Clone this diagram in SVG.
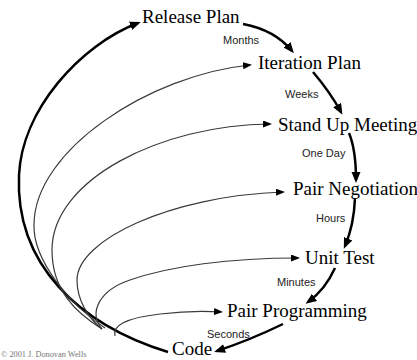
<svg xmlns="http://www.w3.org/2000/svg" width="417" height="360" viewBox="0 0 417 360">
<style>
.node{font-family:"Liberation Serif","Times New Roman",serif;font-size:19px;fill:#000}
.lbl{font-family:"Liberation Sans",Arial,sans-serif;font-size:11px;fill:#222}
.copy{font-family:"Liberation Serif","Times New Roman",serif;font-size:8.3px;fill:#777}
.main{fill:none;stroke:#000;stroke-width:2.5;marker-end:url(#big)}
.thin{fill:none;stroke:#3a3a3a;stroke-width:1.2;marker-end:url(#small)}
</style>
<defs>
<marker id="big" markerUnits="userSpaceOnUse" markerWidth="12" markerHeight="10" refX="8" refY="4.5" orient="auto">
<path d="M0,0 L11,4.5 L0,9 z" fill="#000"/>
</marker>
<marker id="small" markerUnits="userSpaceOnUse" markerWidth="10" markerHeight="8" refX="7" refY="3.5" orient="auto">
<path d="M0,0 L9,3.5 L0,7 z" fill="#000"/>
</marker>
</defs>
<rect width="417" height="360" fill="#fff"/>
<g id="connectors">
<path class="main" d="M168,352 C80,325 15,265 19,175 C22,110 80,45 138,23"/>
<path class="main" d="M243,24 Q275,30 292,51"/>
<path class="main" d="M313,72 Q330,92 341,112"/>
<path class="main" d="M349,133 Q356,150 356,180"/>
<path class="main" d="M355,198 Q354,225 345,246"/>
<path class="main" d="M335,268 Q325,290 308,302"/>
<path class="main" d="M283,324 Q250,340 217,351"/>
<path class="thin" d="M105,328 C70,305 33,260 34,225 C34,150 150,75 250,65"/>
<path class="thin" d="M102,329 C75,312 52,290 52,250 C52,180 160,125 270,124"/>
<path class="thin" d="M102,329 C88,318 77,300 77,280 C77,240 170,196 283,192"/>
<path class="thin" d="M102,329 C88,312 100,290 130,280 C170,266 230,258 298,258"/>
<path class="thin" d="M115,336 C112,326 125,318 160,314 C185,311 205,311 221,312"/>
</g>
<g id="release-plan"><text class="node" x="142" y="23">Release Plan</text></g>
<g id="iteration-plan"><text class="node" x="258" y="69">Iteration Plan</text></g>
<g id="stand-up-meeting"><text class="node" x="278" y="131">Stand Up Meeting</text></g>
<g id="pair-negotiation"><text class="node" x="293" y="195">Pair Negotiation</text></g>
<g id="unit-test"><text class="node" x="305" y="264">Unit Test</text></g>
<g id="pair-programming"><text class="node" x="227" y="317">Pair Programming</text></g>
<g id="code"><text class="node" x="172" y="355">Code</text></g>
<g id="labels">
<text class="lbl" x="223" y="44">Months</text>
<text class="lbl" x="285" y="98">Weeks</text>
<text class="lbl" x="302" y="157">One Day</text>
<text class="lbl" x="316" y="222">Hours</text>
<text class="lbl" x="277" y="286">Minutes</text>
<text class="lbl" x="207" y="338">Seconds</text>
</g>
<text class="copy" x="1" y="357">© 2001 J. Donovan Wells</text>
</svg>
